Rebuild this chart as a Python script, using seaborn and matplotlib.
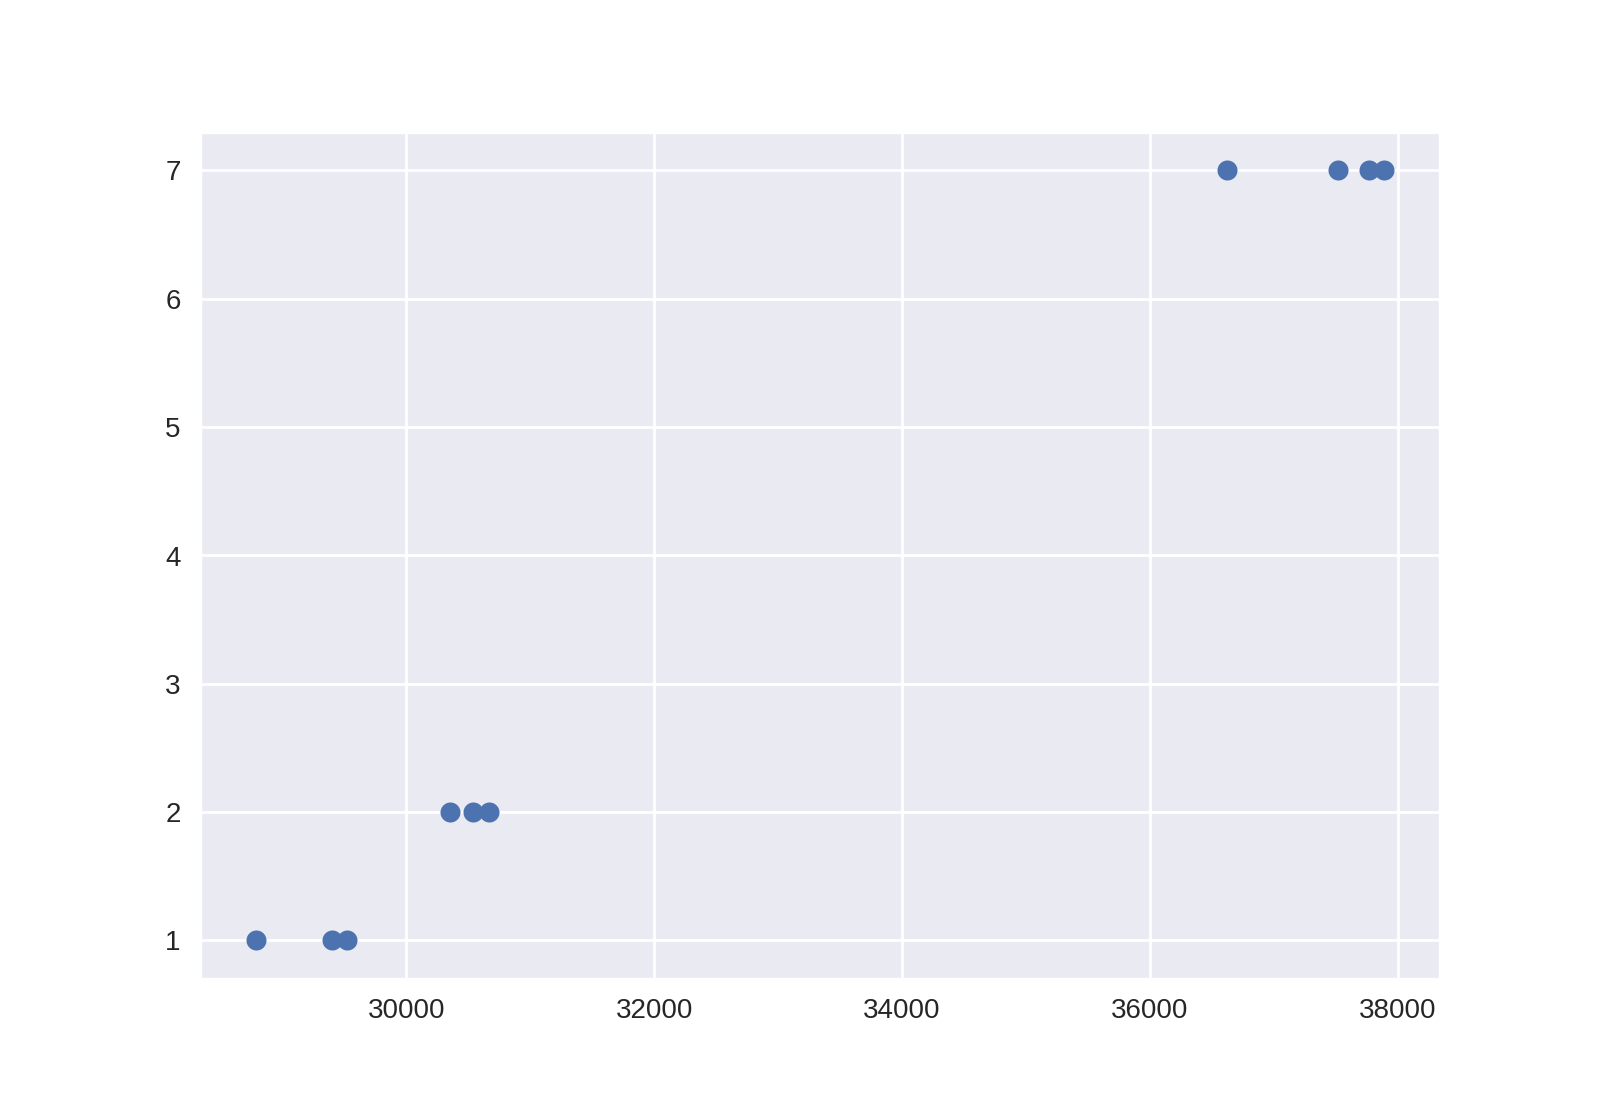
import matplotlib
matplotlib.use('Agg')
import matplotlib.pyplot as plt
import seaborn as sns
import pandas as pd

price = [28790, 29400, 29525, 30355, 30535, 30665, 36620, 37520, 37765, 37885]
level = [1, 1, 1, 2, 2, 2, 7, 7, 7, 7]

df = pd.DataFrame({'price': price, 'level': level})

sns.set_theme()
plt.rcParams['font.family'] = ['Liberation Sans', 'DejaVu Sans']
plt.rcParams['xtick.labelsize'] = 10
plt.rcParams['ytick.labelsize'] = 10
plt.rcParams['xtick.major.pad'] = 1
plt.rcParams['ytick.major.pad'] = 1

fig = plt.figure(figsize=(8, 5.5), dpi=200)
ax = sns.scatterplot(x='price', y='level', data=df, s=52, linewidth=0, color='#4c72b0')
ax.set_xlabel('')
ax.set_ylabel('')
plt.savefig('out.png', dpi=200)
